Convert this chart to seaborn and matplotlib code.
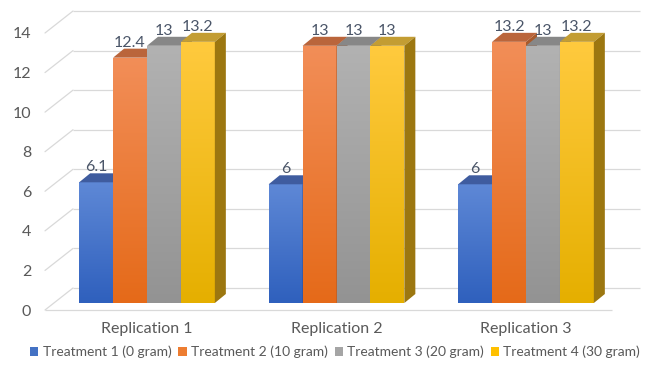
import numpy as np
import pandas as pd
import matplotlib
matplotlib.use("Agg")
import matplotlib.pyplot as plt
import seaborn as sns
from matplotlib.patches import Polygon, Patch
from matplotlib.lines import Line2D
from matplotlib.transforms import offset_copy, IdentityTransform
from matplotlib.colors import LinearSegmentedColormap

# ---- data ----
replications = ["Replication 1", "Replication 2", "Replication 3"]
treatments = ["Treatment 1 (0 gram)", "Treatment 2 (10 gram)",
              "Treatment 3 (20 gram)", "Treatment 4 (30 gram)"]
treatment_1 = [6.1, 6, 6]
treatment_2 = [12.4, 13, 13.2]
treatment_3 = [13, 13, 13]
treatment_4 = [13.2, 13, 13.2]
y_ticks = [0, 2, 4, 6, 8, 10, 12, 14]

series = [treatment_1, treatment_2, treatment_3, treatment_4]
df = pd.DataFrame({
    "Replication": [r for s in series for r in replications],
    "Treatment": [t for t, s in zip(treatments, series) for _ in s],
    "Value": [v for s in series for v in s],
})

# ---- styling ----
legend_colors = ["#4472c4", "#ed7d31", "#a5a5a5", "#ffc000"]
face_top = ["#5e88d6", "#f28e58", "#b2b2b2", "#ffca3e"]
face_bottom = ["#2f60bd", "#e56a19", "#939393", "#e5af00"]
cap_colors = ["#3f5c9f", "#ba653b", "#878787", "#c39d33"]
side_colors = ["#2c4a8c", "#a85a2c", "#7a7a7a", "#9c7710"]
grid_col = "#d9d9d9"
text_col = "#595959"
label_col = "#4a5568"
fs = 11.5
legend_fs = 10

sns.set_style("white")
plt.rcParams["font.family"] = ["Lato", "DejaVu Sans"]

W, H = 651, 374
fig = plt.figure(figsize=(W / 100, H / 100), dpi=100)

# front plane of the 3-D box (pixels)
left_px, right_px, floor_px, top_px = 45, 612, 310, 33
ax = fig.add_axes([left_px / W, (H - floor_px) / H,
                   (right_px - left_px) / W, (floor_px - top_px) / H])

sns.barplot(data=df, x="Replication", y="Value", hue="Treatment",
            hue_order=treatments, order=replications,
            palette=legend_colors, saturation=1, width=0.716,
            edgecolor="none", linewidth=0, legend=False, ax=ax)

# category centres sit 189.5 px apart, first one at x = 147 px
step, c0 = 189.5, 147
ax.set_xlim((left_px - c0) / step, (right_px - c0) / step)
ax.set_ylim(0, 14)
ax.set_autoscale_on(False)
for s in ax.spines.values():
    s.set_visible(False)
ax.set_yticks(y_ticks)
ax.set_yticklabels([str(t) for t in y_ticks])
ax.tick_params(axis="y", length=0, pad=10, labelsize=fs, labelcolor=text_col)
ax.tick_params(axis="x", length=0, pad=8.5, labelsize=fs, labelcolor=text_col)
ax.set_xlabel("")
ax.set_ylabel("")
ax.grid(False)

# depth offsets (pixels): wall, bar front, bar depth
wall_dx, wall_dy = 28, 22
bar_dy = 7
cap_dx, cap_dy = 11, 9

xl, xr = ax.get_xlim()


def px(x, y, dx=0.0, dy=0.0):
    p = ax.transData.transform((x, y))
    return (p[0] + dx, p[1] + dy)


# back wall gridlines and left-hand diagonals
wall_T = offset_copy(ax.transData, fig=fig, x=wall_dx, y=wall_dy, units="dots")
for v in y_ticks:
    ax.plot([xl, xr], [v, v], color=grid_col, lw=0.9, transform=wall_T,
            zorder=1, clip_on=False, solid_capstyle="butt")
    a, b = px(xl, v), px(xl, v, wall_dx, wall_dy)
    ax.add_line(Line2D([a[0], b[0]], [a[1], b[1]], color=grid_col, lw=0.9,
                       transform=IdentityTransform(), zorder=1, clip_on=False))
# front edge of the floor
ax.plot([xl, xr], [0, 0], color=grid_col, lw=0.9, zorder=1, clip_on=False,
        solid_capstyle="butt")

# 3-D columns: gradient front face, cap and right side
bar_T = offset_copy(ax.transData, fig=fig, x=0, y=bar_dy, units="dots")
grad = np.linspace(0, 1, 128).reshape(-1, 1)
for i, cont in enumerate(ax.containers):
    cmap = LinearSegmentedColormap.from_list(f"g{i}", [face_bottom[i], face_top[i]])
    for j, bar in enumerate(cont.patches):
        x, w, h = bar.get_x(), bar.get_width(), bar.get_height()
        z = 10 + 4 * i
        bar.set_transform(bar_T)
        bar.set_zorder(z)
        bar.set_clip_on(False)
        im = ax.imshow(grad, cmap=cmap, extent=(x, x + w, 0, h), origin="lower",
                       aspect="auto", interpolation="bilinear", zorder=z + 0.5)
        im.set_transform(bar_T)
        im.set_clip_path(bar)
        # cap
        p1, p2 = px(x, h, 0, bar_dy), px(x + w, h, 0, bar_dy)
        p3, p4 = px(x + w, h, cap_dx, bar_dy + cap_dy), px(x, h, cap_dx, bar_dy + cap_dy)
        ax.add_patch(Polygon([p1, p2, p3, p4], closed=True, facecolor=cap_colors[i],
                             edgecolor="none", transform=IdentityTransform(),
                             zorder=z + 1, clip_on=False))
        # right side
        q1, q2 = px(x + w, 0, 0, bar_dy), px(x + w, h, 0, bar_dy)
        q3, q4 = px(x + w, h, cap_dx, bar_dy + cap_dy), px(x + w, 0, cap_dx, bar_dy + cap_dy)
        ax.add_patch(Polygon([q1, q2, q3, q4], closed=True, facecolor=side_colors[i],
                             edgecolor="none", transform=IdentityTransform(),
                             zorder=z + 2, clip_on=False))
        # value label
        ax.annotate(f"{h:g}", xy=(x + w / 2, h), xycoords=bar_T,
                    xytext=(0, 11), textcoords="offset pixels",
                    ha="center", va="baseline", fontsize=fs, color=label_col,
                    zorder=100, annotation_clip=False)

ax.set_xlim(xl, xr)
ax.set_ylim(0, 14)

handles = [Patch(facecolor=c, edgecolor="none") for c in legend_colors]
fig.legend(handles, treatments, loc="center", bbox_to_anchor=(335 / W, 22 / H),
           ncol=4, frameon=False, fontsize=legend_fs, labelcolor=text_col,
           handlelength=0.6, handleheight=0.6, handletextpad=0.3,
           columnspacing=0.5, borderaxespad=0)

fig.savefig("out.png", dpi=100, facecolor="white")
